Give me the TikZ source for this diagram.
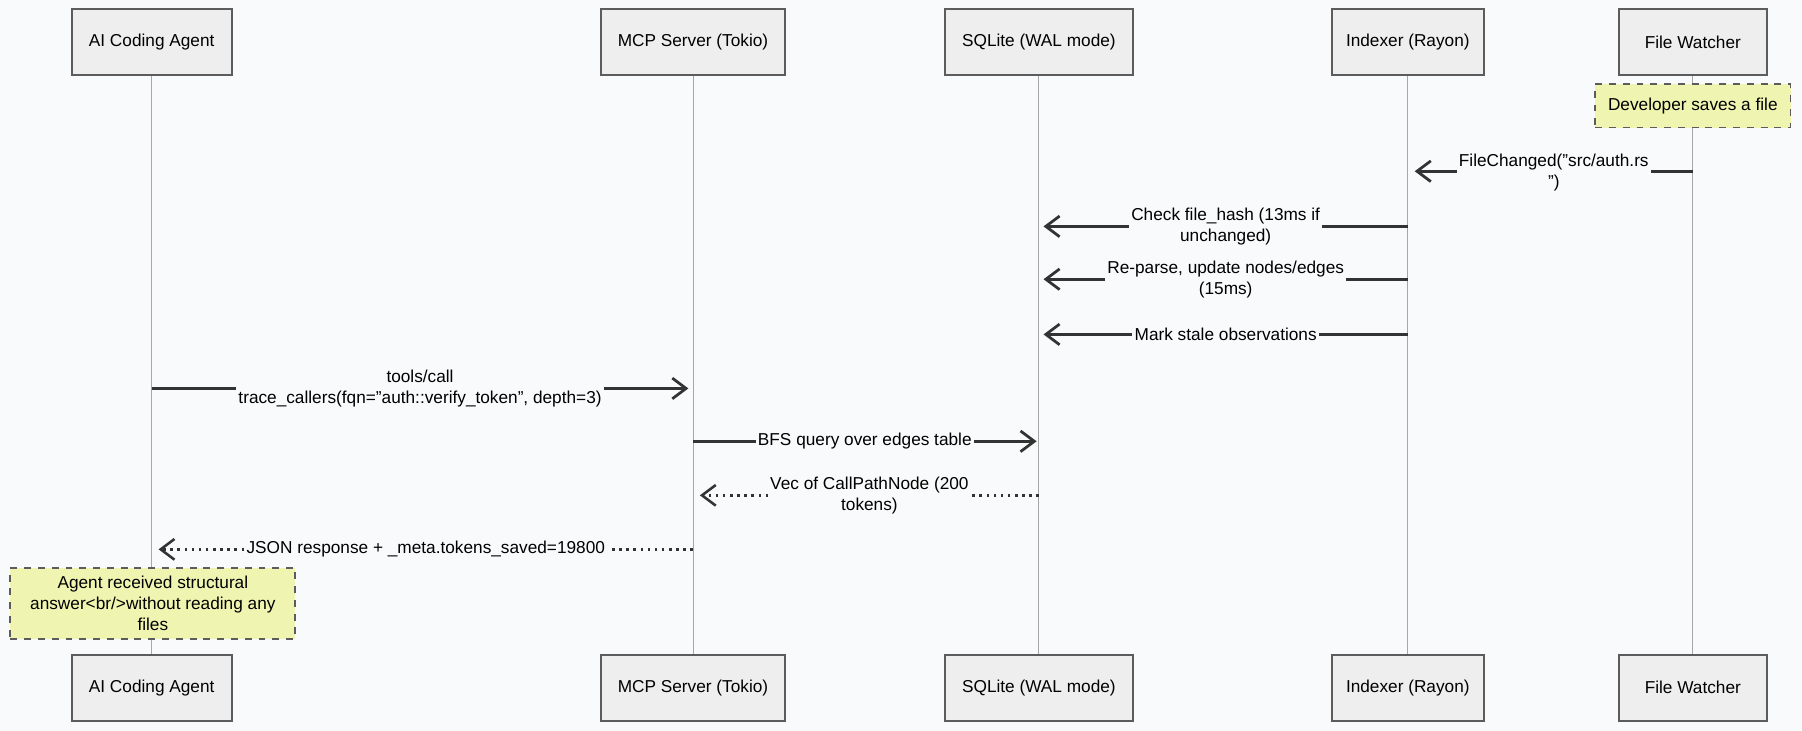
\documentclass[tikz,border=0pt]{standalone}
\usepackage{fontspec}
\setmainfont{Liberation Sans}
\usetikzlibrary{arrows.meta}
\definecolor{bg}{HTML}{F9FAFB}
\definecolor{boxf}{HTML}{EEEEEE}
\definecolor{notef}{HTML}{EFF5B0}
\definecolor{ink}{HTML}{333333}
\begin{document}
\begin{tikzpicture}[x=0.5pt,y=-0.5pt,
 actor/.style={draw=ink!80,line width=0.9pt,fill=boxf,minimum width=#1*0.5pt,minimum height=28.5pt,font=\fontsize{7.5}{9}\selectfont,anchor=center},
 life/.style={draw=gray!70,line width=0.4pt},
 note/.style={draw=ink!80,dashed,line width=0.8pt,fill=notef,font=\fontsize{7.5}{9}\selectfont,align=center,anchor=center},
 msg/.style={draw=ink,line width=1.2pt,-{Straight Barb[length=6pt,width=9pt]}},
 ret/.style={draw=ink,line width=1.1pt,dotted,-{Straight Barb[length=6pt,width=9pt]}},
 lbl/.style={fill=bg,inner sep=1pt,font=\fontsize{7.5}{9}\selectfont,align=center}]
\fill[bg] (0,0) rectangle (1568,636);
\useasboundingbox (0,0) rectangle (1568,636);
\foreach \n/\x/\w/\t in {a/132/139/AI Coding Agent,m/603/160/MCP Server (Tokio),s/904/164/SQLite (WAL mode),i/1225/132/Indexer (Rayon),f/1473/129/File Watcher}{
 \draw[life] (\x,65) -- (\x,570);
 \node[actor=\w] (\n top) at (\x,36.5) {\t};
 \node[actor=\w] (\n bot) at (\x,598.5) {\t};
}
\foreach \n/\x in {a/132,m/603,s/904,i/1225,f/1473}{
 \foreach \k/\y in {1/149,2/197,3/243,4/291,5/338,6/384,7/431,8/478}{\coordinate (\n\k) at (\x,\y);}
}
\node[note,minimum width=85pt,minimum height=19pt] (n1) at (1473,92) {Developer saves a file};
\draw[msg] (f1) -- ([xshift=3]i1) node[lbl,midway,yshift=-0.5pt] {FileChanged("src/auth.rs\\")};
\draw[msg] (i2) -- ([xshift=2]s2) node[lbl,midway] {Check file\_hash (13ms if\\unchanged)};
\draw[msg] (i3) -- ([xshift=2]s3) node[lbl,midway] {Re-parse, update nodes/edges\\(15ms)};
\draw[msg] (i4) -- ([xshift=2]s4) node[lbl,midway,yshift=0pt] {Mark stale observations};
\draw[msg] (a5) -- ([xshift=-2]m5) node[lbl,midway] {tools/call\\trace\_callers(fqn="auth::verify\_token", depth=3)};
\draw[msg] (m6) -- ([xshift=-1]s6) node[lbl,midway] {BFS query over edges table};
\draw[ret] (s7) -- ([xshift=3]m7) node[lbl,midway] {Vec of CallPathNode (200\\tokens)};
\draw[ret] (m8) -- ([xshift=3]a8) node[lbl,midway] {JSON response + \_meta.tokens\_saved=19800};
\node[note,minimum width=124pt,minimum height=31pt] (n2) at (133,525) {Agent received structural\\answer<br/>without reading any\\files};
\end{tikzpicture}
\end{document}
